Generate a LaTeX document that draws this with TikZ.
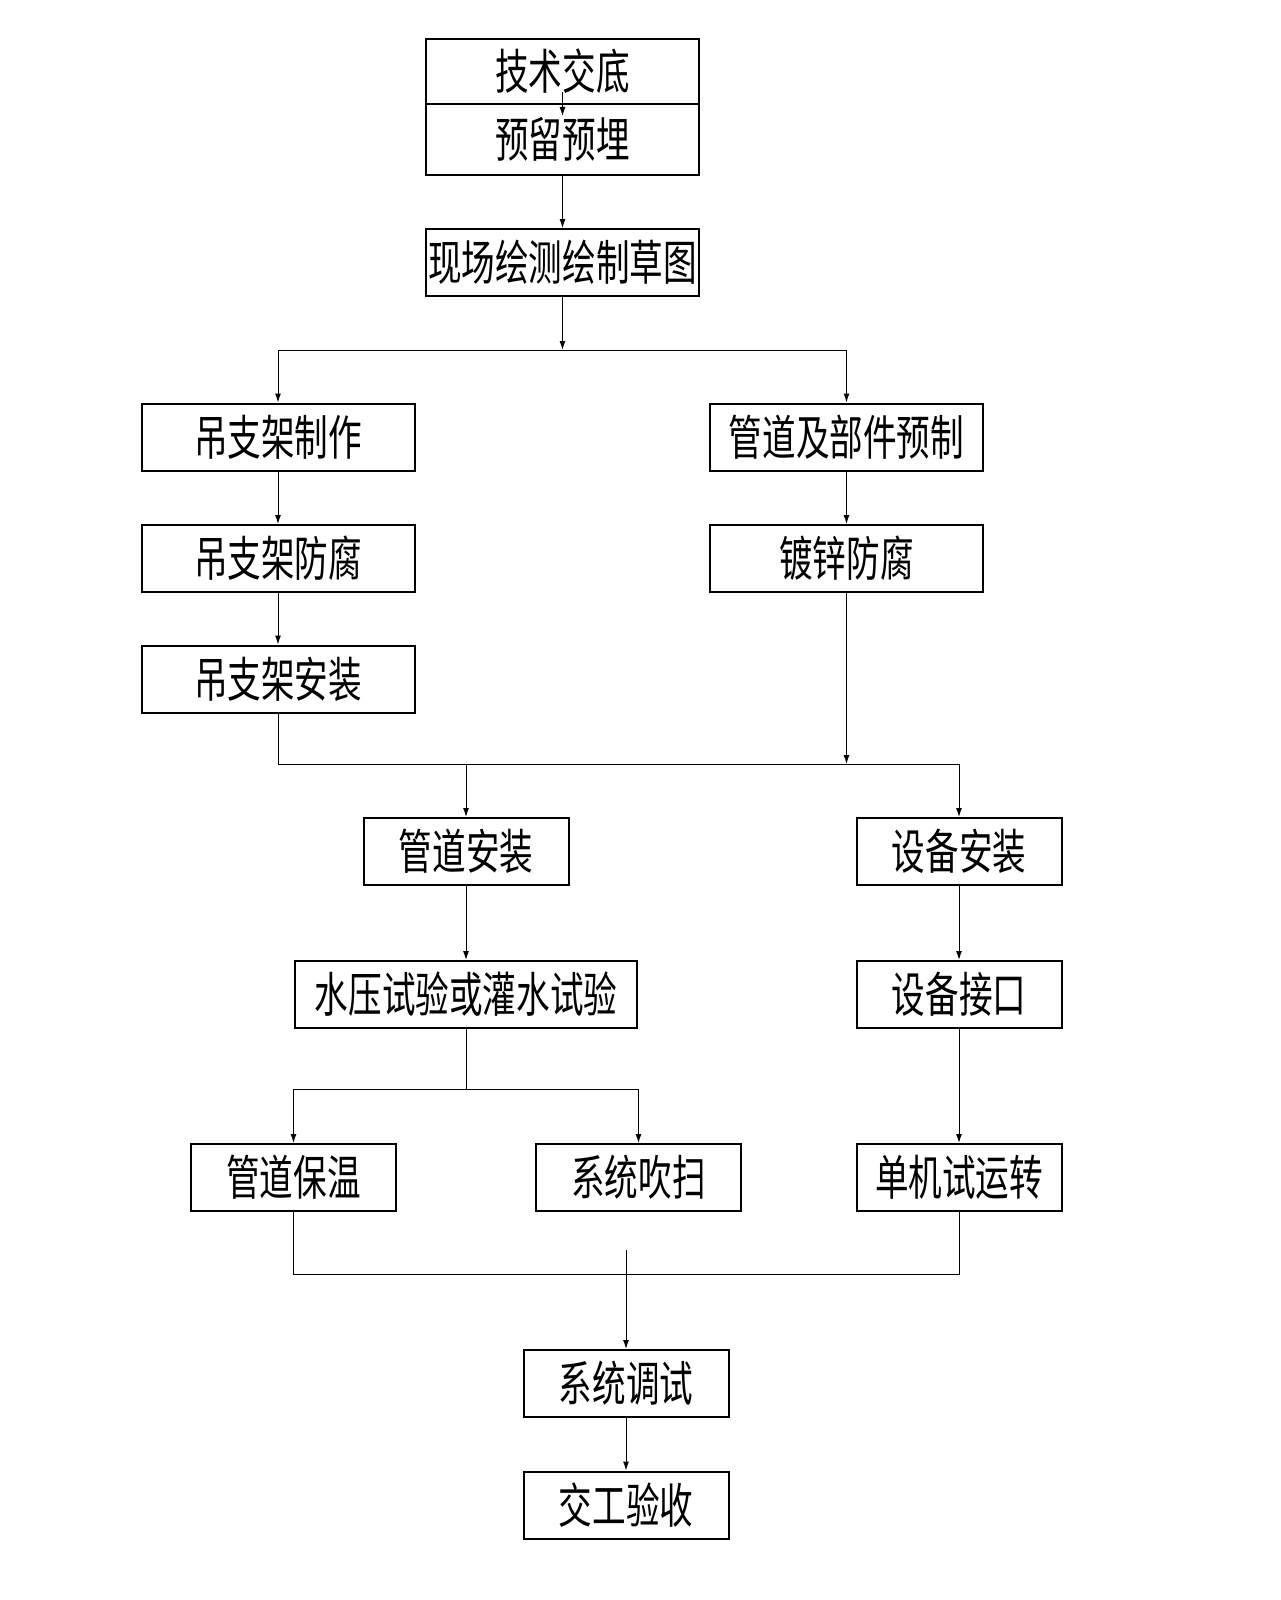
\documentclass[tikz,border=0pt]{standalone}
\usepackage{fontspec}
\usepackage{tikz}
\usetikzlibrary{arrows.meta,calc,positioning}
\newfontfamily\cjk[FakeStretch=0.7]{Noto Sans CJK SC}
\tikzset{%
	process/.style = {draw, line width=1pt, rectangle, minimum height=33.5pt, inner sep=0pt, text centered, font={\cjk\fontsize{24pt}{24pt}\selectfont}},
	wide/.style    = {process, minimum width=136.5pt},
	narrow/.style  = {process, minimum width=102.5pt},
	arrow/.style   = {line width=0.5pt, -{Latex[length=4.5pt,width=3pt]}},
	link/.style    = {line width=0.5pt},
}
\begin{document}
\begin{tikzpicture}[x=0.5pt,y=-0.5pt]
	\fill[white] (0,0) rectangle (1280,1600);
	\useasboundingbox (0,0) rectangle (1280,1600);
	% top block
	\node[wide, minimum height=32.5pt] (brief) at (562.5,71.5) {技术交底};
	\node[wide, minimum height=35.5pt] (embed) at (562.5,139.5) {预留预埋};
	\node[wide] (survey) at (562.5,262.5) {现场绘测绘制草图};
	\coordinate (split1) at (562.5,350);
	% left and right columns
	\node[wide] (hangmake) at (278,437) {吊支架制作};
	\node[wide] (hangcoat) at (278,558.5) {吊支架防腐};
	\node[wide] (hanginst) at (278,679) {吊支架安装};
	\node[wide] (pipepre) at (846.5,437) {管道及部件预制};
	\node[wide] (galv) at (846.5,558.5) {镀锌防腐};
	\coordinate (merge1) at (846.5,764);
	\coordinate (bus1) at (466,764);
	% installation
	\node[narrow] (pipeinst) at (466,851.5) {管道安装};
	\node[narrow] (equipinst) at (959,851.5) {设备安装};
	\node[process, minimum width=171pt] (pressure) at (466,994.5) {水压试验或灌水试验};
	\node[narrow] (equipif) at (959,994.5) {设备接口};
	\coordinate (split2) at (466,1089);
	\node[narrow] (insul) at (293.5,1177.5) {管道保温};
	\node[narrow] (purge) at (638.5,1177.5) {系统吹扫};
	\node[narrow] (trial) at (959,1177.5) {单机试运转};
	\coordinate (bus2) at (626,1274);
	\coordinate (feed) at (626,1250);
	\node[narrow] (commis) at (626,1383.5) {系统调试};
	\node[narrow] (accept) at (626,1505) {交工验收};
	% connectors
	\draw[arrow] ([yshift=6.5pt]brief.south) -- ([yshift=-6.5pt]embed.north);
	\draw[arrow] (embed) -- (survey);
	\draw[arrow] (survey) -- (split1);
	\draw[arrow] (split1) -| (hangmake);
	\draw[arrow] (split1) -| (pipepre);
	\draw[arrow] (hangmake) -- (hangcoat);
	\draw[arrow] (hangcoat) -- (hanginst);
	\draw[arrow] (pipepre) -- (galv);
	\draw[arrow] (galv) -- (merge1);
	\draw[link] (hanginst) |- (merge1);
	\draw[arrow] (bus1) -- (pipeinst);
	\draw[arrow] (merge1) -| (equipinst);
	\draw[arrow] (pipeinst) -- (pressure);
	\draw[link] (pressure) -- (split2);
	\draw[arrow] (split2) -| (insul);
	\draw[arrow] (split2) -| (purge);
	\draw[arrow] (equipinst) -- (equipif);
	\draw[arrow] (equipif) -- (trial);
	\draw[link] (insul) |- (bus2) -| (trial);
	\draw[arrow] (feed) -- (commis);
	\draw[arrow] (commis) -- (accept);
\end{tikzpicture}
\end{document}
